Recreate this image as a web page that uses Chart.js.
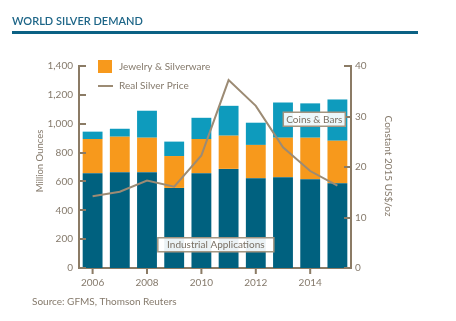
<!DOCTYPE html>
<html>
<head>
<meta charset="utf-8">
<script src="https://cdn.jsdelivr.net/npm/chart.js@4/dist/chart.umd.min.js"></script>
<style>
  body { margin: 0; background: #fff; }
  canvas { display: block; }
</style>
</head>
<body>
<canvas id="chart" width="456" height="321"></canvas>
<script>
const years = ['2006', '2007', '2008', '2009', '2010', '2011', '2012', '2013', '2014', '2015']
const industrial = [657, 664, 664, 555, 657, 687, 622, 629, 615, 588]
const jewelry = [237, 246, 239, 221, 237, 230, 231, 274, 288, 294]
const coinsBars = [51, 55, 187, 100, 147, 207, 154, 244, 238, 286]
const realPrice = [14.2, 15.1, 17.3, 16.1, 22.3, 37.2, 32.1, 23.9, 19.2, 16.3]
const leftTicks = [0, 200, 400, 600, 800, 1000, 1200, 1400]
const rightTicks = [0, 10, 20, 30, 40]

const axisColor = '#8b7b65'
const textColor = '#857a6c'
const font = 'Lato, "Open Sans", sans-serif'

const extras = {
    id: 'extras',
    afterDraw(chart) {
        const ctx = chart.ctx
        const x = chart.scales.x
        const y = chart.scales.y
        const y1 = chart.scales.y1
        ctx.save()

        // title + rule
        ctx.fillStyle = '#1d6587'
        ctx.font = '600 11px ' + font
        ctx.textBaseline = 'alphabetic'
        ctx.fillText('WORLD SILVER DEMAND', 12, 25)
        ctx.fillStyle = '#0b6184'
        ctx.fillRect(12, 31, 406, 3)

        // tick marks
        ctx.strokeStyle = axisColor
        ctx.lineWidth = 2
        ctx.beginPath()
        leftTicks.forEach(v => {
            const py = Math.round(y.getPixelForValue(v))
            ctx.moveTo(chart.chartArea.left, py)
            ctx.lineTo(chart.chartArea.left + 7, py)
        })
        rightTicks.forEach(v => {
            const py = Math.round(y1.getPixelForValue(v))
            ctx.moveTo(chart.chartArea.right, py)
            ctx.lineTo(chart.chartArea.right - 7, py)
        })
        years.forEach((yr, i) => {
            if (i % 2) return
            const px = x.getPixelForValue(i)
            ctx.moveTo(px, chart.chartArea.bottom)
            ctx.lineTo(px, chart.chartArea.bottom + 6)
        })
        ctx.stroke()

        // legend
        ctx.fillStyle = '#f7991c'
        ctx.fillRect(98, 60, 14, 13)
        ctx.strokeStyle = '#9c8b74'
        ctx.beginPath()
        ctx.moveTo(98, 86)
        ctx.lineTo(113, 86)
        ctx.stroke()
        ctx.fillStyle = textColor
        ctx.font = '10px ' + font
        ctx.textBaseline = 'middle'
        ctx.fillText('Jewelry & Silverware', 119, 67)
        ctx.fillText('Real Silver Price', 119, 86)

        // axis titles
        ctx.font = '9.5px ' + font
        ctx.textAlign = 'center'
        ctx.save()
        ctx.translate(40, 161)
        ctx.rotate(-Math.PI / 2)
        ctx.fillText('Million Ounces', 0, 0)
        ctx.restore()
        ctx.save()
        ctx.translate(388, 166)
        ctx.rotate(Math.PI / 2)
        ctx.font = '10px ' + font
        ctx.fillText('Constant 2015 US$/oz', 0, 0)
        ctx.restore()

        // labels
        const tag = (text, cx, cy, w) => {
            ctx.fillStyle = 'rgba(255,255,255,0.92)'
            ctx.fillRect(cx - w / 2, cy - 7, w, 14)
            ctx.strokeStyle = '#a39580'
            ctx.lineWidth = 1.5
            ctx.strokeRect(cx - w / 2, cy - 7, w, 14)
            ctx.fillStyle = '#7a7064'
            ctx.font = '10px ' + font
            ctx.fillText(text, cx, cy + 0.5)
        }
        tag('Industrial Applications', x.getPixelForValue(4.53), y.getPixelForValue(161), 116)
        tag('Coins & Bars', x.getPixelForValue(8.15), y.getPixelForValue(1031), 62)

        // source
        ctx.textAlign = 'left'
        ctx.fillStyle = textColor
        ctx.font = '10px ' + font
        ctx.fillText('Source: GFMS, Thomson Reuters', 32, 302)
        ctx.restore()
    }
}

const context = document.getElementById('chart').getContext('2d')
new Chart(context, {
    data: {
        labels: years,
        datasets: [
            {
                type: 'line',
                label: 'Real Silver Price',
                data: realPrice,
                yAxisID: 'y1',
                borderColor: '#9c8b74',
                borderWidth: 2,
                pointRadius: 0,
                tension: 0,
                order: 0
            },
            {
                type: 'bar',
                label: 'Industrial Applications',
                data: industrial,
                backgroundColor: '#00617f',
                barPercentage: 0.73,
                categoryPercentage: 1,
                order: 1
            },
            {
                type: 'bar',
                label: 'Jewelry & Silverware',
                data: jewelry,
                backgroundColor: '#f7991c',
                barPercentage: 0.73,
                categoryPercentage: 1,
                order: 1
            },
            {
                type: 'bar',
                label: 'Coins & Bars',
                data: coinsBars,
                backgroundColor: '#0e9bbd',
                barPercentage: 0.73,
                categoryPercentage: 1,
                order: 1
            }
        ]
    },
    options: {
        responsive: false,
        animation: false,
        layout: { padding: { top: 66, left: 0, right: 0, bottom: 0 } },
        plugins: { legend: { display: false }, tooltip: { enabled: false } },
        scales: {
            x: {
                stacked: true,
                grid: { display: false, drawTicks: false },
                border: { color: axisColor, width: 2 },
                ticks: {
                    color: textColor,
                    font: { family: font, size: 10 },
                    padding: 9,
                    maxRotation: 0,
                    autoSkip: false,
                    callback: (v, i) => i % 2 ? '' : years[i]
                },
                afterFit: s => { s.height = 53 }
            },
            y: {
                stacked: true,
                min: 0,
                max: 1400,
                grid: { display: false, drawTicks: false },
                border: { color: axisColor, width: 2 },
                ticks: {
                    stepSize: 200,
                    color: textColor,
                    font: { family: font, size: 10 },
                    padding: 6
                },
                afterFit: s => { s.width = 79 }
            },
            y1: {
                position: 'right',
                min: 0,
                max: 40,
                grid: { display: false, drawTicks: false },
                border: { color: axisColor, width: 2 },
                ticks: {
                    stepSize: 10,
                    color: textColor,
                    font: { family: font, size: 10 },
                    padding: 4
                },
                afterFit: s => { s.width = 105 }
            }
        }
    },
    plugins: [extras]
})
</script>
</body>
</html>
